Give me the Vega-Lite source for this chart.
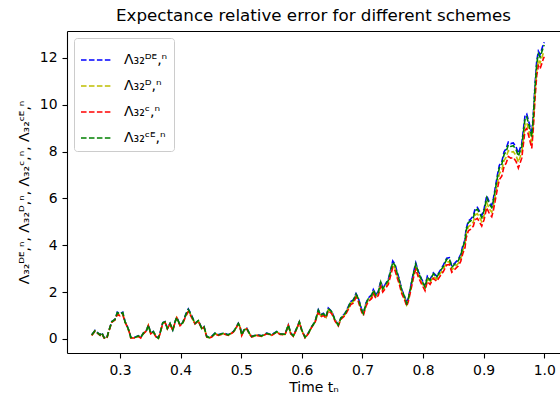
{
  "$schema": "https://vega.github.io/schema/vega-lite/v6.json",
  "width": 493,
  "height": 322,
  "autosize": {"type": "none"},
  "padding": {"left": 67, "top": 31, "right": 0, "bottom": 48},
  "background": "white",
  "title": {"text": "Expectance relative error for different schemes", "fontSize": 16.7, "fontWeight": "normal", "font": "DejaVu Sans", "color": "#000", "anchor": "middle", "offset": 6},
  "config": {
    "view": {"stroke": null},
    "font": "DejaVu Sans",
    "axis": {"domainColor": "#000", "domainWidth": 1.1, "tickColor": "#000", "tickWidth": 1.1, "tickSize": 5, "labelColor": "#000", "labelFontSize": 13.9, "labelFont": "DejaVu Sans", "titleFont": "DejaVu Sans", "titleFontSize": 13.9, "titleFontWeight": "normal", "titleColor": "#000", "grid": false, "labelPadding": 5}
  },
  "data": {"values": [
    {"t":0.2533,"de":0.18,"d":0.16,"c":0.15,"ce":0.17},
    {"t":0.2587,"de":0.36,"d":0.34,"c":0.33,"ce":0.35},
    {"t":0.2670,"de":0.18,"d":0.16,"c":0.15,"ce":0.17},
    {"t":0.2698,"de":0.28,"d":0.26,"c":0.25,"ce":0.27},
    {"t":0.2736,"de":0.07,"d":0.05,"c":0.04,"ce":0.06},
    {"t":0.2781,"de":0.04,"d":0.02,"c":0.01,"ce":0.03},
    {"t":0.2807,"de":0.28,"d":0.26,"c":0.25,"ce":0.27},
    {"t":0.2863,"de":0.74,"d":0.72,"c":0.71,"ce":0.73},
    {"t":0.2917,"de":0.84,"d":0.82,"c":0.81,"ce":0.83},
    {"t":0.2955,"de":1.14,"d":1.08,"c":1.04,"ce":1.12},
    {"t":0.3000,"de":1.08,"d":1.02,"c":0.99,"ce":1.06},
    {"t":0.3045,"de":1.14,"d":1.08,"c":1.04,"ce":1.12},
    {"t":0.3083,"de":0.74,"d":0.72,"c":0.71,"ce":0.73},
    {"t":0.3111,"de":0.60,"d":0.58,"c":0.57,"ce":0.59},
    {"t":0.3153,"de":0.32,"d":0.30,"c":0.29,"ce":0.31},
    {"t":0.3177,"de":0.07,"d":0.05,"c":0.04,"ce":0.06},
    {"t":0.3248,"de":0.07,"d":0.05,"c":0.04,"ce":0.06},
    {"t":0.3302,"de":0.14,"d":0.12,"c":0.11,"ce":0.13},
    {"t":0.3342,"de":0.07,"d":0.05,"c":0.04,"ce":0.06},
    {"t":0.3384,"de":0.25,"d":0.23,"c":0.22,"ce":0.24},
    {"t":0.3441,"de":0.39,"d":0.37,"c":0.36,"ce":0.38},
    {"t":0.3467,"de":0.60,"d":0.58,"c":0.57,"ce":0.59},
    {"t":0.3507,"de":0.25,"d":0.23,"c":0.22,"ce":0.24},
    {"t":0.3550,"de":0.32,"d":0.30,"c":0.29,"ce":0.31},
    {"t":0.3594,"de":0.11,"d":0.09,"c":0.08,"ce":0.10},
    {"t":0.3632,"de":0.04,"d":0.02,"c":0.01,"ce":0.03},
    {"t":0.3660,"de":0.25,"d":0.23,"c":0.22,"ce":0.24},
    {"t":0.3705,"de":0.70,"d":0.68,"c":0.67,"ce":0.69},
    {"t":0.3743,"de":0.74,"d":0.72,"c":0.71,"ce":0.73},
    {"t":0.3781,"de":0.46,"d":0.44,"c":0.43,"ce":0.45},
    {"t":0.3825,"de":0.67,"d":0.65,"c":0.64,"ce":0.66},
    {"t":0.3870,"de":0.39,"d":0.37,"c":0.36,"ce":0.38},
    {"t":0.3908,"de":0.74,"d":0.72,"c":0.71,"ce":0.73},
    {"t":0.3936,"de":0.93,"d":0.91,"c":0.90,"ce":0.92},
    {"t":0.3990,"de":0.60,"d":0.58,"c":0.57,"ce":0.59},
    {"t":0.4035,"de":0.70,"d":0.68,"c":0.67,"ce":0.69},
    {"t":0.4089,"de":1.08,"d":1.02,"c":0.99,"ce":1.06},
    {"t":0.4127,"de":1.28,"d":1.22,"c":1.17,"ce":1.26},
    {"t":0.4167,"de":1.08,"d":1.02,"c":0.99,"ce":1.06},
    {"t":0.4238,"de":0.67,"d":0.65,"c":0.64,"ce":0.66},
    {"t":0.4292,"de":0.79,"d":0.77,"c":0.76,"ce":0.78},
    {"t":0.4348,"de":0.46,"d":0.44,"c":0.43,"ce":0.45},
    {"t":0.4386,"de":0.53,"d":0.51,"c":0.50,"ce":0.52},
    {"t":0.4431,"de":0.11,"d":0.09,"c":0.08,"ce":0.10},
    {"t":0.4474,"de":0.07,"d":0.05,"c":0.04,"ce":0.06},
    {"t":0.4513,"de":0.11,"d":0.09,"c":0.08,"ce":0.10},
    {"t":0.4568,"de":0.25,"d":0.23,"c":0.22,"ce":0.24},
    {"t":0.4622,"de":0.18,"d":0.16,"c":0.15,"ce":0.17},
    {"t":0.4705,"de":0.25,"d":0.23,"c":0.22,"ce":0.24},
    {"t":0.4787,"de":0.18,"d":0.16,"c":0.15,"ce":0.17},
    {"t":0.4870,"de":0.32,"d":0.30,"c":0.29,"ce":0.31},
    {"t":0.4898,"de":0.42,"d":0.40,"c":0.39,"ce":0.41},
    {"t":0.4952,"de":0.67,"d":0.65,"c":0.64,"ce":0.66},
    {"t":0.4980,"de":0.53,"d":0.51,"c":0.50,"ce":0.52},
    {"t":0.5008,"de":0.18,"d":0.16,"c":0.15,"ce":0.17},
    {"t":0.5046,"de":0.39,"d":0.37,"c":0.36,"ce":0.38},
    {"t":0.5091,"de":0.46,"d":0.44,"c":0.43,"ce":0.45},
    {"t":0.5134,"de":0.25,"d":0.23,"c":0.22,"ce":0.24},
    {"t":0.5173,"de":0.11,"d":0.09,"c":0.08,"ce":0.10},
    {"t":0.5256,"de":0.18,"d":0.16,"c":0.15,"ce":0.17},
    {"t":0.5338,"de":0.14,"d":0.12,"c":0.11,"ce":0.13},
    {"t":0.5421,"de":0.25,"d":0.23,"c":0.22,"ce":0.24},
    {"t":0.5503,"de":0.18,"d":0.16,"c":0.15,"ce":0.17},
    {"t":0.5586,"de":0.32,"d":0.30,"c":0.29,"ce":0.31},
    {"t":0.5640,"de":0.22,"d":0.20,"c":0.19,"ce":0.21},
    {"t":0.5723,"de":0.21,"d":0.19,"c":0.18,"ce":0.20},
    {"t":0.5777,"de":0.60,"d":0.58,"c":0.57,"ce":0.59},
    {"t":0.5817,"de":0.25,"d":0.23,"c":0.22,"ce":0.24},
    {"t":0.5860,"de":0.14,"d":0.12,"c":0.11,"ce":0.13},
    {"t":0.5916,"de":0.46,"d":0.44,"c":0.43,"ce":0.45},
    {"t":0.5959,"de":0.74,"d":0.72,"c":0.71,"ce":0.73},
    {"t":0.5998,"de":0.39,"d":0.37,"c":0.36,"ce":0.38},
    {"t":0.6053,"de":0.08,"d":0.06,"c":0.05,"ce":0.07},
    {"t":0.6107,"de":0.25,"d":0.23,"c":0.22,"ce":0.24},
    {"t":0.6163,"de":0.53,"d":0.51,"c":0.50,"ce":0.52},
    {"t":0.6218,"de":0.74,"d":0.72,"c":0.71,"ce":0.73},
    {"t":0.6272,"de":1.25,"d":1.19,"c":1.14,"ce":1.23},
    {"t":0.6312,"de":1.04,"d":0.98,"c":0.95,"ce":1.02},
    {"t":0.6355,"de":1.10,"d":1.04,"c":1.00,"ce":1.08},
    {"t":0.6399,"de":0.95,"d":0.92,"c":0.89,"ce":0.94},
    {"t":0.6437,"de":1.32,"d":1.25,"c":1.21,"ce":1.30},
    {"t":0.6493,"de":1.18,"d":1.12,"c":1.08,"ce":1.16},
    {"t":0.6548,"de":0.82,"d":0.79,"c":0.76,"ce":0.81},
    {"t":0.6602,"de":0.60,"d":0.57,"c":0.55,"ce":0.59},
    {"t":0.6642,"de":0.89,"d":0.86,"c":0.83,"ce":0.88},
    {"t":0.6713,"de":1.10,"d":1.04,"c":1.00,"ce":1.08},
    {"t":0.6767,"de":1.38,"d":1.31,"c":1.26,"ce":1.36},
    {"t":0.6807,"de":1.60,"d":1.52,"c":1.47,"ce":1.58},
    {"t":0.6850,"de":1.67,"d":1.59,"c":1.53,"ce":1.65},
    {"t":0.6894,"de":1.94,"d":1.84,"c":1.78,"ce":1.91},
    {"t":0.6932,"de":1.75,"d":1.66,"c":1.60,"ce":1.72},
    {"t":0.6988,"de":1.25,"d":1.19,"c":1.14,"ce":1.23},
    {"t":0.7015,"de":1.10,"d":1.04,"c":1.00,"ce":1.08},
    {"t":0.7059,"de":1.53,"d":1.46,"c":1.40,"ce":1.51},
    {"t":0.7097,"de":1.75,"d":1.66,"c":1.60,"ce":1.72},
    {"t":0.7153,"de":1.89,"d":1.79,"c":1.73,"ce":1.86},
    {"t":0.7180,"de":2.11,"d":2.01,"c":1.93,"ce":2.08},
    {"t":0.7224,"de":1.89,"d":1.79,"c":1.73,"ce":1.86},
    {"t":0.7262,"de":2.03,"d":1.93,"c":1.86,"ce":2.00},
    {"t":0.7302,"de":2.47,"d":2.34,"c":2.26,"ce":2.43},
    {"t":0.7335,"de":2.18,"d":2.07,"c":2.00,"ce":2.15},
    {"t":0.7373,"de":2.32,"d":2.21,"c":2.13,"ce":2.29},
    {"t":0.7427,"de":2.54,"d":2.41,"c":2.33,"ce":2.50},
    {"t":0.7467,"de":2.96,"d":2.82,"c":2.72,"ce":2.92},
    {"t":0.7500,"de":3.33,"d":3.17,"c":3.05,"ce":3.28},
    {"t":0.7538,"de":3.19,"d":3.03,"c":2.92,"ce":3.14},
    {"t":0.7576,"de":2.82,"d":2.68,"c":2.59,"ce":2.78},
    {"t":0.7609,"de":2.54,"d":2.41,"c":2.33,"ce":2.50},
    {"t":0.7649,"de":2.11,"d":2.01,"c":1.93,"ce":2.08},
    {"t":0.7686,"de":1.89,"d":1.79,"c":1.73,"ce":1.86},
    {"t":0.7731,"de":1.53,"d":1.46,"c":1.40,"ce":1.51},
    {"t":0.7757,"de":1.75,"d":1.66,"c":1.60,"ce":1.72},
    {"t":0.7797,"de":2.25,"d":2.14,"c":2.06,"ce":2.22},
    {"t":0.7840,"de":2.82,"d":2.68,"c":2.59,"ce":2.78},
    {"t":0.7880,"de":3.25,"d":3.09,"c":2.98,"ce":3.20},
    {"t":0.7922,"de":2.89,"d":2.75,"c":2.65,"ce":2.85},
    {"t":0.7979,"de":2.54,"d":2.41,"c":2.33,"ce":2.50},
    {"t":0.8033,"de":2.25,"d":2.14,"c":2.06,"ce":2.22},
    {"t":0.8071,"de":2.68,"d":2.55,"c":2.46,"ce":2.64},
    {"t":0.8116,"de":2.54,"d":2.41,"c":2.33,"ce":2.50},
    {"t":0.8170,"de":2.82,"d":2.68,"c":2.59,"ce":2.78},
    {"t":0.8226,"de":2.68,"d":2.55,"c":2.46,"ce":2.64},
    {"t":0.8281,"de":2.92,"d":2.78,"c":2.68,"ce":2.88},
    {"t":0.8335,"de":3.15,"d":2.99,"c":2.88,"ce":3.10},
    {"t":0.8391,"de":3.45,"d":3.28,"c":3.16,"ce":3.40},
    {"t":0.8434,"de":3.47,"d":3.30,"c":3.18,"ce":3.42},
    {"t":0.8474,"de":3.11,"d":2.95,"c":2.85,"ce":3.06},
    {"t":0.8528,"de":3.25,"d":3.09,"c":2.98,"ce":3.20},
    {"t":0.8583,"de":3.40,"d":3.23,"c":3.12,"ce":3.35},
    {"t":0.8622,"de":3.61,"d":3.44,"c":3.31,"ce":3.56},
    {"t":0.8655,"de":3.97,"d":3.77,"c":3.64,"ce":3.91},
    {"t":0.8693,"de":4.25,"d":4.04,"c":3.90,"ce":4.19},
    {"t":0.8710,"de":4.69,"d":4.46,"c":4.30,"ce":4.62},
    {"t":0.8748,"de":5.04,"d":4.80,"c":4.62,"ce":4.97},
    {"t":0.8787,"de":5.12,"d":4.86,"c":4.69,"ce":5.04},
    {"t":0.8830,"de":5.26,"d":5.00,"c":4.82,"ce":5.18},
    {"t":0.8858,"de":5.55,"d":5.28,"c":5.09,"ce":5.47},
    {"t":0.8896,"de":5.62,"d":5.35,"c":5.15,"ce":5.54},
    {"t":0.8929,"de":5.47,"d":5.20,"c":5.01,"ce":5.39},
    {"t":0.8969,"de":5.26,"d":5.00,"c":4.82,"ce":5.18},
    {"t":0.9007,"de":5.55,"d":5.28,"c":5.09,"ce":5.47},
    {"t":0.9051,"de":6.12,"d":5.82,"c":5.61,"ce":6.03},
    {"t":0.9094,"de":5.84,"d":5.55,"c":5.35,"ce":5.75},
    {"t":0.9134,"de":5.69,"d":5.41,"c":5.22,"ce":5.61},
    {"t":0.9160,"de":5.98,"d":5.68,"c":5.48,"ce":5.89},
    {"t":0.9188,"de":6.40,"d":6.09,"c":5.87,"ce":6.31},
    {"t":0.9226,"de":6.98,"d":6.64,"c":6.40,"ce":6.88},
    {"t":0.9259,"de":7.41,"d":7.05,"c":6.80,"ce":7.30},
    {"t":0.9299,"de":7.56,"d":7.20,"c":6.95,"ce":7.45},
    {"t":0.9337,"de":7.99,"d":7.62,"c":7.37,"ce":7.87},
    {"t":0.9370,"de":8.12,"d":7.75,"c":7.50,"ce":8.00},
    {"t":0.9408,"de":8.41,"d":8.04,"c":7.79,"ce":8.29},
    {"t":0.9447,"de":8.34,"d":7.97,"c":7.72,"ce":8.22},
    {"t":0.9490,"de":8.37,"d":8.00,"c":7.75,"ce":8.25},
    {"t":0.9535,"de":8.20,"d":7.83,"c":7.58,"ce":8.08},
    {"t":0.9573,"de":7.92,"d":7.55,"c":7.30,"ce":7.80},
    {"t":0.9629,"de":8.34,"d":7.97,"c":7.72,"ce":8.22},
    {"t":0.9683,"de":9.54,"d":9.17,"c":8.92,"ce":9.42},
    {"t":0.9711,"de":9.61,"d":9.24,"c":8.99,"ce":9.49},
    {"t":0.9754,"de":9.19,"d":8.82,"c":8.57,"ce":9.07},
    {"t":0.9794,"de":8.76,"d":8.39,"c":8.14,"ce":8.64},
    {"t":0.9820,"de":9.61,"d":9.24,"c":8.99,"ce":9.49},
    {"t":0.9848,"de":10.88,"d":10.51,"c":10.26,"ce":10.76},
    {"t":0.9876,"de":11.87,"d":11.50,"c":11.25,"ce":11.75},
    {"t":0.9903,"de":12.29,"d":11.92,"c":11.67,"ce":12.17},
    {"t":0.9931,"de":12.15,"d":11.78,"c":11.53,"ce":12.03},
    {"t":0.9959,"de":12.37,"d":12.00,"c":11.75,"ce":12.25},
    {"t":0.9985,"de":12.58,"d":12.21,"c":11.96,"ce":12.46},
    {"t":1.0,"de":12.67,"d":12.30,"c":12.05,"ce":12.55}
  ]},
  "transform": [{"fold": ["de", "d", "c", "ce"], "as": ["series", "value"]}],
  "layer": [
    {
      "mark": {"type": "line", "strokeWidth": 1.6, "strokeDash": [5.55, 2.4], "clip": true},
      "encoding": {
        "x": {"field": "t", "type": "quantitative", "scale": {"domain": [0.2125, 1.026], "nice": false, "zero": false},
              "axis": {"values": [0.3, 0.4, 0.5, 0.6, 0.7, 0.8, 0.9, 1.0], "format": ".1f", "title": "Time tₙ", "titlePadding": 4}},
        "y": {"field": "value", "type": "quantitative", "scale": {"domain": [-0.6, 13.15], "nice": false, "zero": false},
              "axis": {"values": [0, 2, 4, 6, 8, 10, 12], "format": "d", "title": "Λ₃₂ᴰᴱ,ⁿ, Λ₃₂ᴰ,ⁿ, Λ₃₂ᶜ,ⁿ, Λ₃₂ᶜᴱ,ⁿ", "titlePadding": 8}},
        "color": {"field": "series", "type": "nominal",
                  "scale": {"domain": ["de", "d", "c", "ce"], "range": ["#0000ff", "#bfbf00", "#ff0000", "#008000"]},
                  "legend": {"title": null, "orient": "top-left", "offset": 7, "padding": 6, "fillColor": "rgba(255,255,255,0.8)", "strokeColor": "#cccccc", "cornerRadius": 3,
                             "labelFontSize": 14, "labelFont": "DejaVu Sans", "labelColor": "#000", "labelOffset": 12,
                             "symbolType": "stroke", "symbolSize": 900, "symbolStrokeWidth": 1.5, "symbolDash": [5.55, 2.4], "rowPadding": 3,
                             "labelExpr": "{'de': 'Λ₃₂ᴰᴱ,ⁿ', 'd': 'Λ₃₂ᴰ,ⁿ', 'c': 'Λ₃₂ᶜ,ⁿ', 'ce': 'Λ₃₂ᶜᴱ,ⁿ'}[datum.value]"}}
      }
    },
    {
      "mark": {"type": "line", "opacity": 0},
      "encoding": {
        "x": {"field": "t", "type": "quantitative", "axis": {"orient": "top", "labels": false, "ticks": false, "title": null}},
        "y": {"field": "value", "type": "quantitative"}
      }
    }
  ],
  "resolve": {"axis": {"x": "independent"}}
}
